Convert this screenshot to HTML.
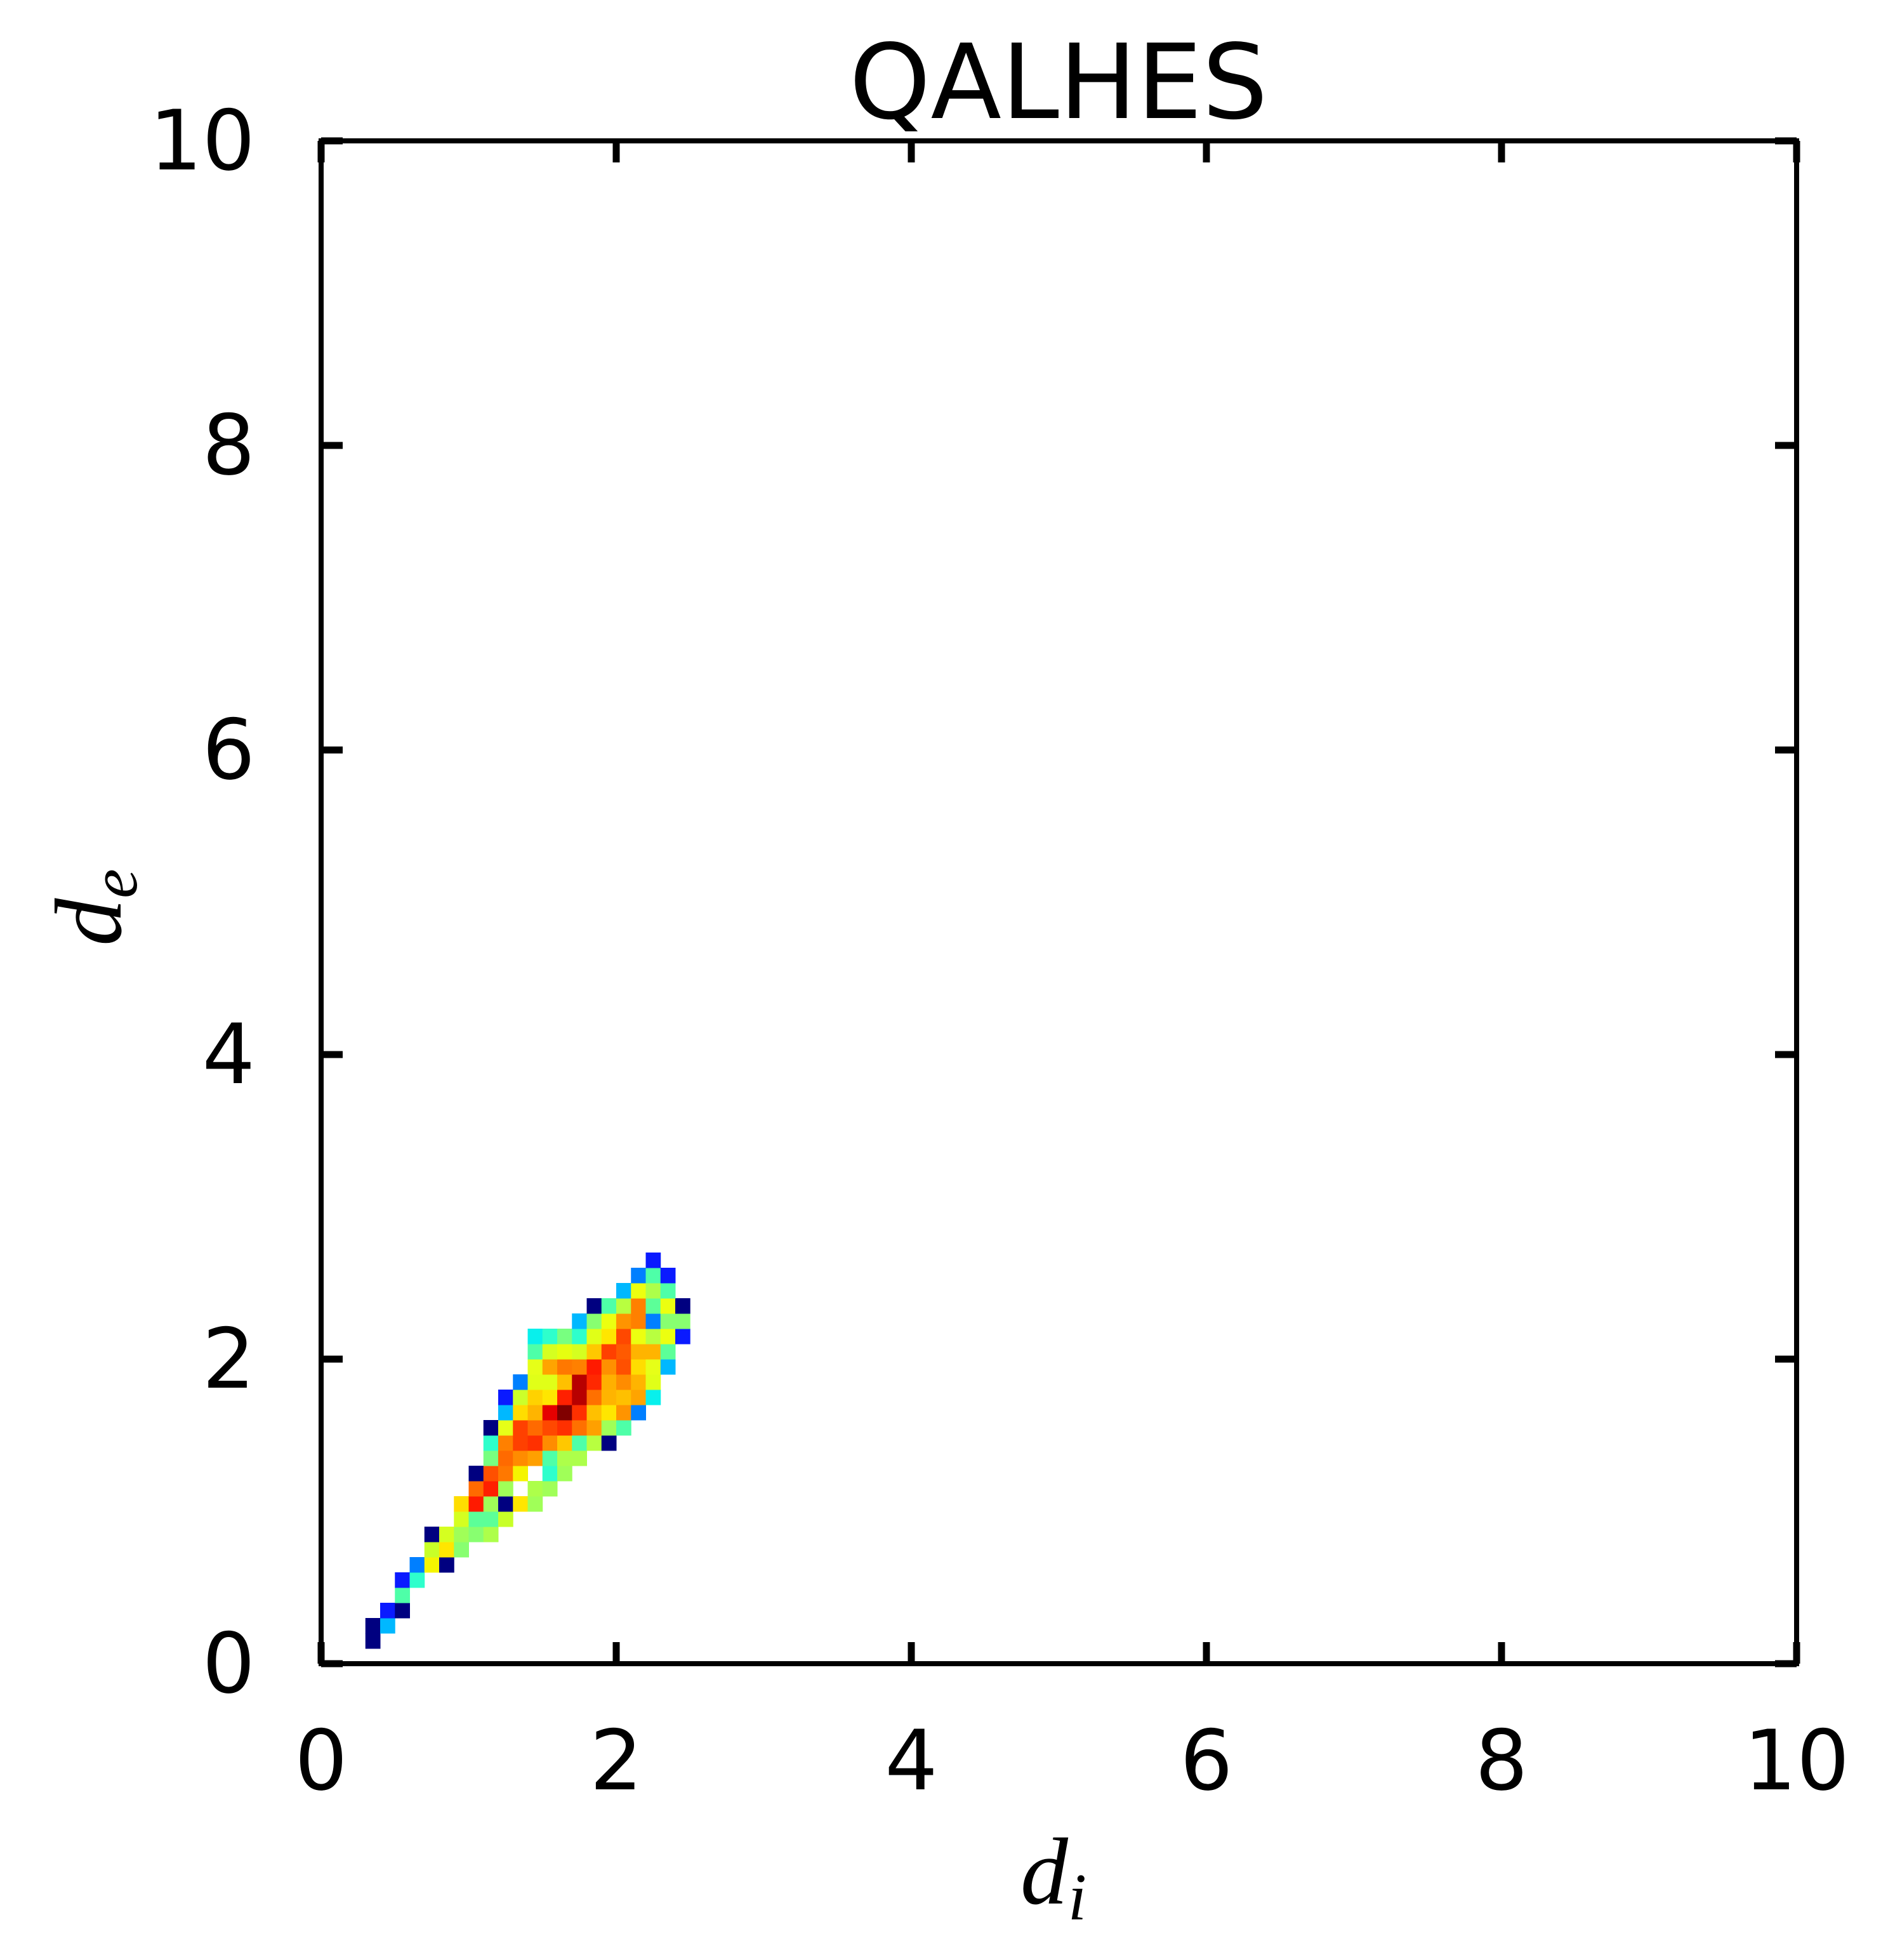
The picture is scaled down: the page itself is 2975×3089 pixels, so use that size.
<!DOCTYPE html>
<html><head><meta charset="utf-8"><style>
html,body{margin:0;padding:0;background:#fff;}
svg{display:block;}
</style></head>
<body>
<svg id="chart" width="2975" height="3089" xmlns="http://www.w3.org/2000/svg">
<rect width="2975" height="3089" fill="#fff"/>
<g id="cells"></g>
<g id="axes"></g>
<text x="1668" y="186" font-family="DejaVu Sans, Liberation Sans, sans-serif" font-size="163" text-anchor="middle">QALHES</text>
<text x="1660" y="3000" font-family="Liberation Serif, DejaVu Serif, serif" font-style="italic" font-size="150" text-anchor="middle">d<tspan font-size="105" dy="25">i</tspan></text>
<text transform="translate(190,1430) rotate(-90)" font-family="Liberation Serif, DejaVu Serif, serif" font-style="italic" font-size="150" text-anchor="middle">d<tspan font-size="105" dy="25">e</tspan></text>
</svg>
<script>
const xTicks = [0, 2, 4, 6, 8, 10];
const yTicks = [0, 2, 4, 6, 8, 10];
const binSize = 0.1;
const rowIndex = [1,2,3,4,5,6,7,8,9,10,11,12,13,14,15,16,17,18,19,20,21,22,23,24,25,26];
const rowStart = [3,3,4,5,5,6,7,7,9,9,10,10,11,11,11,12,12,13,14,14,14,17,18,20,21,22];
const rowColors = [
 ["#000080"],
 ["#000080","#00b8ff"],
 ["#0a1aff","#000080"],
 ["#4effa8"],
 ["#0a1aff","#2effcc"],
 ["#007fff","#f5f500","#000080"],
 ["#c8ff28","#ffe600","#88ff70"],
 ["#000080","#d5ff20","#a0ff58","#88ff70","#adff4a"],
 ["#d5ff20","#5cff98","#5cff98","#c8ff28"],
 ["#ffdd00","#ff1a00","#a0ff58","#000080","#ffe600","#a0ff58"],
 ["#ff6a00","#ff2000","#a0ff58",null,"#adff4a","#a0ff58"],
 ["#000080","#ff5000","#ff7800","#f5f500",null,"#2effcc","#a0ff58"],
 ["#78ff80","#ff6a00","#ff8c00","#ffa000","#4effa8","#adff4a","#adff4a"],
 ["#2effcc","#ff8000","#ff4000","#ff3000","#ff8c00","#ffc800","#4effa8","#b8ff40","#000080"],
 ["#000080","#e6ff18","#ff4000","#ff6a00","#ff4800","#ff3000","#ff7000","#ffa000","#a0ff58","#4effa8"],
 ["#00b8ff","#ffdd00","#ffb400","#e60000","#800000","#ff3000","#ffc000","#ffe600","#ff9400","#007fff"],
 ["#0a1aff","#ccff2a","#ffd200","#ffe600","#ff2000","#b80000","#ff7000","#ffb400","#ffc000","#ffa400","#08f0ec"],
 ["#007fff","#e0ff18","#e0ff18","#ffc000","#b80000","#ff2800","#ffb000","#ff8c00","#ffb400","#e0ff18"],
 ["#e6ff18","#ffa400","#ff7800","#ff8000","#ff1a00","#ff9000","#ff5000","#ffdd00","#e6ff18","#00b8ff"],
 ["#4effa8","#d5ff20","#e6ff10","#d5ff20","#ffc800","#ff4000","#ff5a00","#ffb400","#ffb400","#5cff98"],
 ["#08f0ec","#2effcc","#78ff80","#2effcc","#e0ff18","#ffe600","#ff4800","#ecff10","#b8ff40","#ecff10","#0a1aff"],
 ["#00b8ff","#88ff70","#ecff10","#ff9400","#ff8000","#007fff","#88ff70","#88ff70"],
 ["#000080","#4effa8","#b8ff40","#ff8000","#5cff98","#ecff10","#000080"],
 ["#00b8ff","#ecff10","#adff4a","#4effa8"],
 ["#007fff","#4effa8","#0a1aff"],
 ["#0a1aff"]
];
const X0=506, X1=2831, Y0=2622, Y1=222;
const xs = v => X0 + (X1-X0)*v/10;
const ys = v => Y0 - (Y0-Y1)*v/10;
const NS="http://www.w3.org/2000/svg";
const cells=document.getElementById('cells');
rowIndex.forEach((r,i)=>{
  rowColors[i].forEach((col,j)=>{
    if(!col) return;
    const c=rowStart[i]+j;
    const x0=xs(c*binSize), x1=xs((c+1)*binSize), y0=ys((r+1)*binSize), y1=ys(r*binSize);
    const rect=document.createElementNS(NS,'rect');
    rect.setAttribute('x',x0);rect.setAttribute('y',y0);
    rect.setAttribute('width',x1-x0+0.5);rect.setAttribute('height',y1-y0+0.5);
    rect.setAttribute('fill',col);
    
    
    cells.appendChild(rect);
  });
});
const axes=document.getElementById('axes');
function line(x1,y1,x2,y2,w,name){
  const l=document.createElementNS(NS,'line');
  l.setAttribute('x1',x1);l.setAttribute('y1',y1);l.setAttribute('x2',x2);l.setAttribute('y2',y2);
  l.setAttribute('stroke','#000');l.setAttribute('stroke-width',w);
  
  
  axes.appendChild(l);
}
function txt(x,y,s,anchor,name){
  const t=document.createElementNS(NS,'text');
  t.setAttribute('x',x);t.setAttribute('y',y);t.setAttribute('text-anchor',anchor);
  t.setAttribute('font-family','DejaVu Sans, Liberation Sans, sans-serif');
  t.setAttribute('font-size','131');
  t.textContent=s;
  
  
  axes.appendChild(t);
}
const sq=document.createElementNS(NS,'rect');
sq.setAttribute('x',X0);sq.setAttribute('y',Y1);sq.setAttribute('width',X1-X0);sq.setAttribute('height',Y0-Y1);
sq.setAttribute('fill','none');sq.setAttribute('stroke','#000');sq.setAttribute('stroke-width','8');


axes.appendChild(sq);
const TL=34;
xTicks.forEach(v=>{
  const x=xs(v);
  line(x,Y0,x,Y0-TL,11,'x-tick');
  line(x,Y1,x,Y1+TL,11,'x-tick-top');
  txt(x,2820,String(v),'middle','x-tick-label');
});
yTicks.forEach(v=>{
  const y=ys(v);
  line(X0,y,X0+TL,y,11,'y-tick');
  line(X1,y,X1-TL,y,11,'y-tick-right');
  txt(402,y+45,String(v),'end','y-tick-label');
});
</script>
</body></html>
